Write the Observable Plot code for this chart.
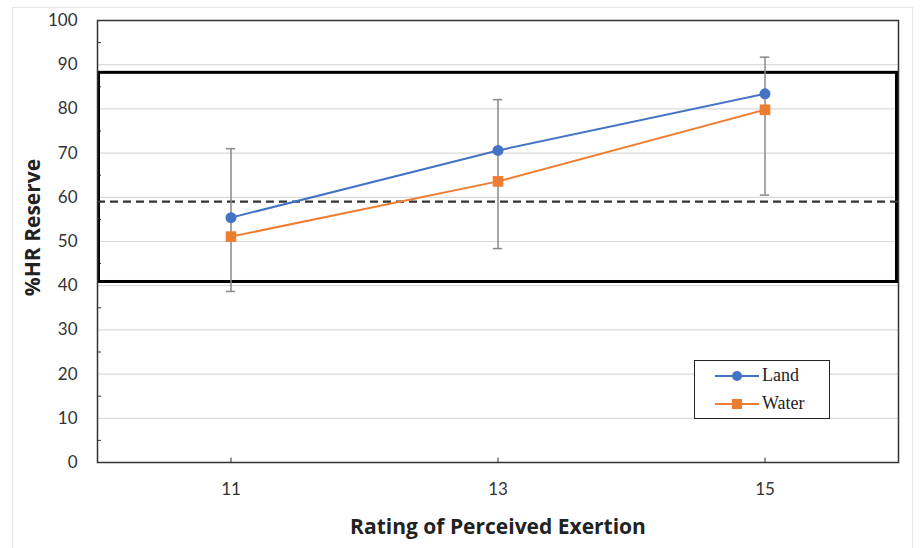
<!DOCTYPE html>
<html><head><meta charset="utf-8">
<script src="https://cdn.jsdelivr.net/npm/d3@7"></script>
<script src="https://cdn.jsdelivr.net/npm/@observablehq/plot@0.6"></script>
<style>
body{margin:0;background:#fff;}
#wrap{position:relative;width:922px;height:548px;overflow:hidden;}
#border{position:absolute;left:12px;top:7px;width:901px;height:560px;border:1.5px solid #e6e6e6;box-sizing:border-box;}
#legend{position:absolute;left:694px;top:360px;width:136px;height:59px;border:1.5px solid #222;box-sizing:border-box;background:#fff;font-family:"Liberation Serif",serif;font-size:18px;color:#222;}
.row{position:absolute;left:20px;display:flex;align-items:center;}
.row span{margin-left:3px;}
</style></head>
<body><div id="wrap"><div id="border"></div><div id="chart"></div>
<div id="legend">
 <div class="row" style="top:4px"><svg width="44" height="20"><line x1="0" y1="10" x2="44" y2="10" stroke="#4472C4" stroke-width="2"/><circle cx="22" cy="10" r="5" fill="#4472C4"/></svg><span>Land</span></div>
 <div class="row" style="top:32px"><svg width="44" height="20"><line x1="0" y1="10" x2="44" y2="10" stroke="#ED7D31" stroke-width="2"/><rect x="17" y="5" width="10" height="10" fill="#ED7D31"/></svg><span>Water</span></div>
</div></div>
<script>
const rpe = [11, 13, 15];
const land = [55.4, 70.6, 83.4];
const water = [51.1, 63.6, 79.8];
const errHigh = [71.0, 82.1, 91.7];
const errLow = [38.7, 48.4, 60.5];
const yTicks = [0, 10, 20, 30, 40, 50, 60, 70, 80, 90, 100];
const yMinor = [5, 15, 25, 35, 45, 55, 65, 75, 85, 95];
const zoneLow = 40.5, zoneHigh = 88.5;
const threshold = 59;

const landData = rpe.map((x, i) => ({x, y: land[i]}));
const waterData = rpe.map((x, i) => ({x, y: water[i]}));
const errData = rpe.map((x, i) => ({x, lo: errLow[i], hi: errHigh[i]}));
const capW = 0.035;

const chart = Plot.plot({
  width: 922, height: 548,
  marginLeft: 97, marginRight: 24, marginTop: 20, marginBottom: 86,
  style: {fontFamily: "Lato, 'Open Sans', sans-serif", background: "transparent", color: "#333"},
  x: {domain: [10, 16]},
  y: {domain: [0, 100]},
  marks: [
    Plot.ruleY(yTicks.slice(1, -1), {stroke: "#d9d9d9", strokeWidth: 1.2}),
    Plot.ruleY(yMinor, {x1: 10, x2: 10.03, stroke: "#333"}),
    Plot.ruleX(rpe, {y1: 0, y2: 1, stroke: "#333"}),
    Plot.rect([{x1: 10, x2: 16, y1: zoneLow, y2: zoneHigh}], {x1: "x1", x2: "x2", y1: "y1", y2: "y2", fill: "none", stroke: "#000", strokeWidth: 3, inset: 1.5}),
    Plot.ruleY([threshold], {stroke: "#333", strokeWidth: 2.3, strokeDasharray: "8,5"}),
    Plot.ruleX(errData, {x: "x", y1: "lo", y2: "hi", stroke: "#888", strokeWidth: 1.5}),
    Plot.ruleY(errData, {y: "hi", x1: d => d.x - capW, x2: d => d.x + capW, stroke: "#888", strokeWidth: 1.5}),
    Plot.ruleY(errData, {y: "lo", x1: d => d.x - capW, x2: d => d.x + capW, stroke: "#888", strokeWidth: 1.5}),
    Plot.line(landData, {x: "x", y: "y", stroke: "#4472C4", strokeWidth: 2}),
    Plot.line(waterData, {x: "x", y: "y", stroke: "#ED7D31", strokeWidth: 2}),
    Plot.dot(landData, {x: "x", y: "y", fill: "#4472C4", r: 5.5, symbol: "circle"}),
    Plot.dot(waterData, {x: "x", y: "y", fill: "#ED7D31", r: 6, symbol: "square"}),
    Plot.frame({stroke: "#333", strokeWidth: 1.5}),
    Plot.axisY({ticks: yTicks, tickSize: 0, tickPadding: 20, fontSize: 17, label: null}),
    Plot.axisX({ticks: rpe, tickSize: 0, tickPadding: 20, fontSize: 17, label: null, tickFormat: d => String(d)}),
    Plot.text(["Rating of Perceived Exertion"], {frameAnchor: "bottom", dy: 71, fontWeight: "bold", fontSize: 21, fontFamily: "'Open Sans', sans-serif", fill: "#222"}),
    Plot.text(["%HR Reserve"], {frameAnchor: "left", textAnchor: "middle", rotate: -90, dx: -64, dy: -14, fontWeight: "bold", fontSize: 21, fontFamily: "'Open Sans', sans-serif", fill: "#222"})
  ]
});
document.getElementById("chart").appendChild(chart);
</script></body></html>
